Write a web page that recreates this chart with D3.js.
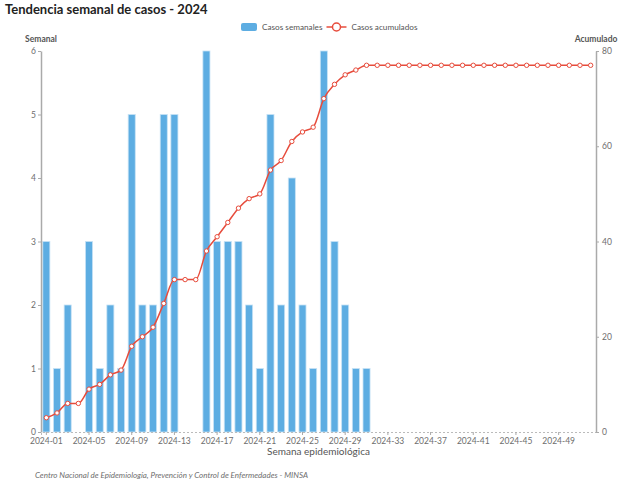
<!DOCTYPE html>
<html>
<head>
<meta charset="utf-8">
<script src="https://cdn.jsdelivr.net/npm/d3@7"></script>
<style>
  body { margin: 0; background: #fff; font-family: Lato, 'Open Sans', sans-serif; }
</style>
</head>
<body>
<div id="chart"></div>
<script>
// semanas epidemiologicas 2024
const weeks = d3.range(1, 53).map(w => '2024-' + String(w).padStart(2, '0'));

// casos por semana
const weekly = [3, 1, 2, 0, 3, 1, 2, 1, 5, 2, 2, 5, 5, 0, 0, 6, 3, 3, 3, 2, 1, 5, 2, 4, 2, 1,
    6, 3, 2, 1, 1, 0, 0, 0, 0, 0, 0, 0, 0, 0, 0, 0, 0, 0, 0, 0, 0, 0, 0, 0, 0, 0];

// casos acumulados
const cumulative = [3, 4, 6, 6, 9, 10, 12, 13, 18, 20, 22, 27, 32, 32, 32, 38, 41, 44, 47, 49, 50, 55, 57, 61, 63, 64,
    70, 73, 75, 76, 77, 77, 77, 77, 77, 77, 77, 77, 77, 77, 77, 77, 77, 77, 77, 77, 77, 77, 77, 77, 77, 77];

const leftTicks = [0, 1, 2, 3, 4, 5, 6];
const rightTicks = [0, 20, 40, 60, 80];

const width = 640;
const height = 483;
const margin = { top: 51, right: 44, bottom: 51, left: 41 };

const blue = '#5dade2';
const red = '#e74c3c';
const grey = '#6e6e6e';
const font = "Lato, 'Open Sans', sans-serif";

const svg = d3.select('#chart')
    .append('svg')
    .attr('width', width)
    .attr('height', height)
    .attr('font-family', font);

const x = d3.scaleBand()
    .domain(weeks)
    .range([margin.left, width - margin.right])
    .paddingInner(0.34)
    .paddingOuter(0.17);

const y = d3.scaleLinear()
    .domain([0, 6])
    .range([height - margin.bottom, margin.top]);

const y2 = d3.scaleLinear()
    .domain([0, 80])
    .range([height - margin.bottom, margin.top]);

// titulo
svg.append('text')
    .attr('x', 5)
    .attr('y', 14)
    .attr('font-size', 13)
    .attr('font-weight', 'bold')
    .attr('fill', '#222')
    .text('Tendencia semanal de casos - 2024');

// leyenda
const legend = svg.append('g').attr('font-size', 8.2).attr('fill', '#555');
legend.append('rect')
    .attr('x', 241).attr('y', 23).attr('width', 16).attr('height', 8).attr('rx', 2)
    .attr('fill', blue);
const t1 = legend.append('text').attr('x', 262).attr('y', 30).text('Casos semanales');
const lx = 262 + t1.node().getComputedTextLength() + 4;
legend.append('line')
    .attr('x1', lx).attr('x2', lx + 20).attr('y1', 27).attr('y2', 27)
    .attr('stroke', red).attr('stroke-width', 1.5);
legend.append('circle')
    .attr('cx', lx + 10).attr('cy', 27).attr('r', 4)
    .attr('fill', '#fff').attr('stroke', red).attr('stroke-width', 1.5);
legend.append('text').attr('x', lx + 25).attr('y', 30).text('Casos acumulados');

// nombres de ejes
svg.append('text')
    .attr('x', margin.left).attr('y', 42)
    .attr('text-anchor', 'middle')
    .attr('font-size', 8.5).attr('font-weight', 'bold').attr('fill', '#555')
    .text('Semanal');
svg.append('text')
    .attr('x', width - margin.right).attr('y', 42)
    .attr('text-anchor', 'middle')
    .attr('font-size', 8.5).attr('font-weight', 'bold').attr('fill', '#555')
    .text('Acumulado');

// barras
svg.append('g')
    .selectAll('rect')
    .data(weekly)
    .join('rect')
    .attr('x', (d, i) => x(weeks[i]))
    .attr('y', d => y(d))
    .attr('width', x.bandwidth())
    .attr('height', d => y(0) - y(d))
    .attr('fill', blue)
    .attr('stroke', '#c6e2f5')
    .attr('stroke-width', 0.8);

const styleTicks = g => {
    g.selectAll('.tick line').attr('stroke', '#aaa');
    g.selectAll('.tick text')
        .attr('fill', grey)
        .attr('font-size', 8.5)
        .attr('font-family', font);
};

// eje x
const xAxis = g => {
    g.attr('transform', `translate(0,${height - margin.bottom})`)
        .call(d3.axisBottom(x)
            .tickValues(weeks.filter((d, i) => i % 4 === 0))
            .tickSize(3)
            .tickPadding(3));
    g.select('.domain')
        .attr('stroke', '#bbb')
        .attr('stroke-dasharray', '2,2');
    styleTicks(g);
};
svg.append('g').call(xAxis);

// eje y izquierdo
const yAxis = g => {
    g.attr('transform', `translate(${margin.left},0)`)
        .call(d3.axisLeft(y).tickValues(leftTicks).tickFormat(d3.format('d'))
            .tickSize(3).tickPadding(2).tickSizeOuter(0));
    g.select('.domain').attr('stroke', '#aaa').attr('stroke-width', 1.5);
    styleTicks(g);
};
svg.append('g').call(yAxis);

// eje y derecho
const y2Axis = g => {
    g.attr('transform', `translate(${width - margin.right},0)`)
        .call(d3.axisRight(y2).tickValues(rightTicks).tickSize(3).tickPadding(3).tickSizeOuter(0));
    g.select('.domain').attr('stroke', '#aaa').attr('stroke-width', 1.5);
    styleTicks(g);
};
svg.append('g').call(y2Axis);

// linea acumulada
const cx = (d, i) => x(weeks[i]) + x.bandwidth() / 2;
const line = d3.line()
    .x(cx)
    .y(d => y2(d))
    .curve(d3.curveMonotoneX);

svg.append('path')
    .datum(cumulative)
    .attr('d', line)
    .attr('fill', 'none')
    .attr('stroke', red)
    .attr('stroke-width', 1.5);

svg.append('g')
    .selectAll('circle')
    .data(cumulative)
    .join('circle')
    .attr('cx', cx)
    .attr('cy', d => y2(d))
    .attr('r', 2.2)
    .attr('fill', '#fff')
    .attr('stroke', red)
    .attr('stroke-width', 1);

// titulo eje x
svg.append('text')
    .attr('x', (margin.left + width - margin.right) / 2)
    .attr('y', 455)
    .attr('text-anchor', 'middle')
    .attr('font-size', 10)
    .attr('fill', '#555')
    .text('Semana epidemiológica');

// fuente
svg.append('text')
    .attr('x', 35)
    .attr('y', 478)
    .attr('font-size', 8)
    .attr('font-style', 'italic')
    .attr('fill', grey)
    .text('Centro Nacional de Epidemiología, Prevención y Control de Enfermedades - MINSA');
</script>
</body>
</html>
